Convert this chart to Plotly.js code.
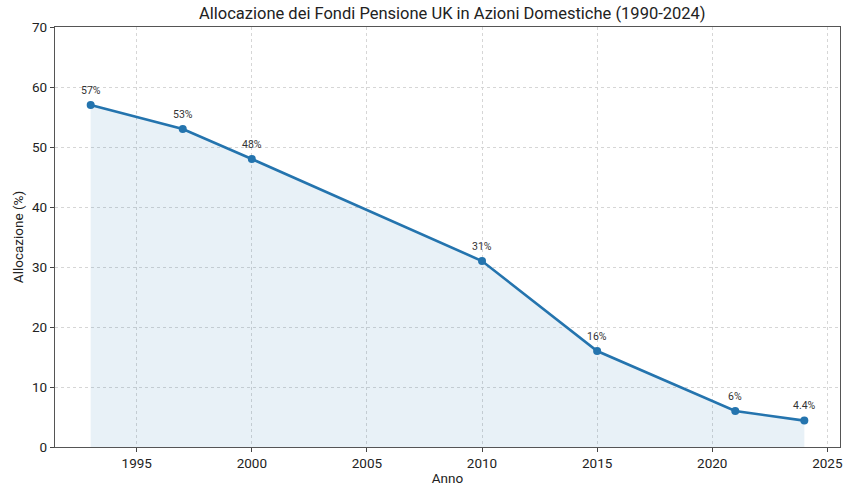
<!DOCTYPE html>
<html>
<head>
<meta charset="utf-8">
<script src="https://cdn.plot.ly/plotly-3.0.1.min.js"></script>
<style>
  html, body { margin: 0; padding: 0; background: #fff; }
  #grafico { width: 855px; height: 498px; }
</style>
</head>
<body>
<div id="grafico"></div>
<script>
// dati
const anni = [1993, 1997, 2000, 2010, 2015, 2021, 2024];
const allocazione = [57, 53, 48, 31, 16, 6, 4.4];
const etichette = ['57%', '53%', '48%', '31%', '16%', '6%', '4.4%'];

const fontBase = 'Roboto, "Open Sans", sans-serif';

// area sotto la curva
const area = {
  x: anni,
  y: allocazione,
  type: 'scatter',
  mode: 'none',
  fill: 'tozeroy',
  fillcolor: 'rgba(31,119,180,0.10)',
  hoverinfo: 'skip',
  showlegend: false
};

// linea con punti
const linea = {
  x: anni,
  y: allocazione,
  type: 'scatter',
  mode: 'lines+markers',
  line: { color: '#2474ae', width: 2.6 },
  marker: { color: '#2474ae', size: 8 },
  showlegend: false
};

// etichette sopra i punti
const note = anni.map((a, i) => ({
  x: a,
  y: allocazione[i],
  text: etichette[i],
  showarrow: false,
  yshift: 15,
  font: { family: fontBase, size: 10.5, color: '#333' }
}));

const griglia = '#d6d6d6';

const layout = {
  width: 855,
  height: 498,
  margin: { l: 55, r: 15, t: 27, b: 51 },
  paper_bgcolor: '#fff',
  plot_bgcolor: '#fff',
  font: { family: fontBase, color: '#222' },
  title: {
    text: 'Allocazione dei Fondi Pensione UK in Azioni Domestiche (1990-2024)',
    font: { family: fontBase, size: 16.5, color: '#222' },
    x: 0.529,
    xanchor: 'center',
    y: 0.985,
    yanchor: 'top'
  },
  annotations: note,
  xaxis: {
    range: [1991.45, 2025.55],
    tickvals: [1995, 2000, 2005, 2010, 2015, 2020, 2025],
    ticks: 'outside',
    ticklen: 4,
    tickcolor: '#444',
    tickfont: { size: 13.5, color: '#222' },
    showgrid: true,
    gridcolor: griglia,
    griddash: '3px,3px',
    gridwidth: 1,
    zeroline: false,
    showline: true,
    linecolor: '#555',
    linewidth: 1.2,
    mirror: true,
    title: { text: 'Anno', font: { size: 13.5, color: '#222' }, standoff: 3 }
  },
  yaxis: {
    range: [0, 70],
    tickvals: [0, 10, 20, 30, 40, 50, 60, 70],
    ticks: 'outside',
    ticklen: 4,
    tickcolor: '#444',
    tickfont: { size: 13.5, color: '#222' },
    showgrid: true,
    gridcolor: griglia,
    griddash: '3px,3px',
    gridwidth: 1,
    zeroline: false,
    showline: true,
    linecolor: '#555',
    linewidth: 1.2,
    mirror: true,
    title: { text: 'Allocazione (%)', font: { size: 13.5, color: '#222' }, standoff: 5 }
  }
};

Plotly.newPlot('grafico', [area, linea], layout, { displayModeBar: false, staticPlot: true });
</script>
</body>
</html>
